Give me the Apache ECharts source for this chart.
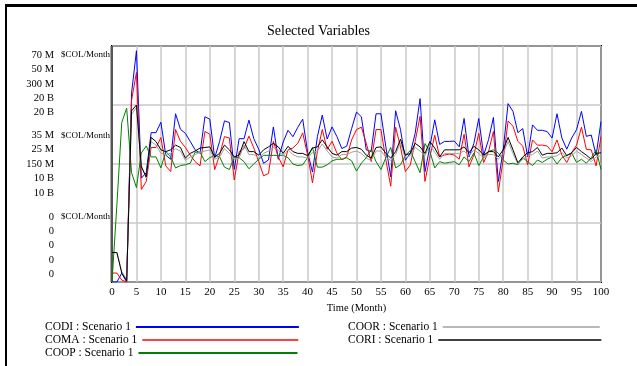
<!DOCTYPE html>
<html><head><meta charset="utf-8">
<script src="https://cdn.jsdelivr.net/npm/echarts@6/dist/echarts.min.js"></script>
<style>html,body{margin:0;padding:0;background:#fff}#c{width:637px;height:366px}</style>
</head><body><div id="c"></div><script>
// Time (Month)
const months = [0,1,2,3,4,5,6,7,8,9,10,11,12,13,14,15,16,17,18,19,20,21,22,23,24,25,26,27,28,29,30,31,32,33,34,35,36,37,38,39,40,41,42,43,44,45,46,47,48,49,50,51,52,53,54,55,56,57,58,59,60,61,62,63,64,65,66,67,68,69,70,71,72,73,74,75,76,77,78,79,80,81,82,83,84,85,86,87,88,89,90,91,92,93,94,95,96,97,98,99,100];
// CODI, $COL/Month, millions
const codi = [0,0,2.6,0,56,68.6,30.8,32.4,44.3,44.3,47.4,37.6,36.4,49.9,45.3,44.1,41.7,39.2,38.2,49,48.3,36.8,41.7,47.8,47.3,33.4,42.5,42.5,48,42.5,39.4,35.2,36.2,46,36.4,41.5,45,43.1,45.9,48.3,38.5,32.6,43.1,49.5,42.4,46,43.1,39.6,40.3,45.5,50.4,49,39.2,38.7,49.9,49.9,40.1,31.2,50.8,45.2,36.1,38.2,44.1,54.4,32.7,40.1,48.1,40.8,41.7,41.7,41.8,40.1,48.5,37.1,41.1,48.5,37.6,42.2,48.8,29.8,39.2,52.9,50.6,44.3,45.5,37.1,46.6,45,45,44.6,42.7,49.9,42.7,39.4,42.7,45.2,50.6,43.2,43.6,37.6,47.6];
// COMA, $COL/Month, millions
const coma = [1.9,1.9,0.4,0,38.5,44.4,19.6,21.3,28.5,28.5,30.6,24.6,23.4,32.3,29.8,28.5,26.9,25.5,24.6,31.9,31.3,23.8,26.9,30.8,30.5,21.6,27.6,28.3,30.9,28.4,25.5,22.5,23,29.8,26.5,24.4,28,28.4,29.4,31.6,26.9,21,27.6,32.3,28.1,29.8,27.3,25.9,26.5,30.1,32.3,32.8,29.4,25.5,32.3,32.3,25.9,20.3,32.8,28.6,23.4,24.8,29.8,35.1,21.3,26.5,31.1,26.5,26.9,27.1,26.9,26,31.3,24.4,26.9,31.5,25.3,27.6,31.9,19.1,25.9,34.1,33,29.8,28.8,24.8,30.1,29,29,28.8,27.6,30.1,26.9,25.3,27.4,29,32.8,28.1,28,24.6,30.8];
// COOP, $COL/Month, millions
const coop = [0,98,203,221,139,120,164,173,159,159,145,166,159,145,148,149,151,165,165,153,158,161,159,146,143,159,158,153,144,150,156,161,161,161,161,161,158,150,148,149,158,171,146,146,149,154,156,156,158,154,141,151,158,168,153,143,158,171,145,149,161,167,153,139,176,166,145,153,151,152,153,149,159,153,164,148,159,166,168,164,155,150,151,149,158,153,148,155,152,156,159,150,158,161,164,152,156,151,158,168,143];
// COOR, $COL/Month, billions
const coor = [2.5,2.5,0.9,0.2,14.2,14.8,9.9,8.8,11.9,11.6,10.9,10.8,10.9,11.3,11.1,10.3,10.6,10.8,11.0,11.1,11.2,10.4,10.6,11.3,10.9,10.4,10.5,11.6,10.8,10.8,10.5,10.9,11.1,11.4,11.2,10.7,11.2,10.8,10.6,10.6,10.5,11.0,11.1,11.7,11.1,10.6,10.5,10.8,10.8,11.0,11.1,10.9,10.5,10.3,11.1,11.1,10.6,10.3,10.8,11.8,10.5,10.7,11.4,11.1,10.7,11.6,11.0,10.4,10.9,10.9,10.9,10.9,11.1,10.7,11.2,10.9,10.5,10.8,10.8,10.4,10.9,11.9,10.9,10.0,10.4,10.7,10.8,11.1,10.5,10.6,10.6,10.7,11.0,10.5,10.7,11.1,10.8,10.5,10.2,10.6,10.7];
// CORI, $COL/Month, billions
const cori = [2.5,2.5,0.75,0.1,14.5,15,9.75,8.9,12.25,11.9,11.2,11.05,11.2,11.6,11.4,10.5,10.9,11.1,11.35,11.4,11.45,10.6,10.9,11.6,11.2,10.6,10.75,11.9,11.05,11.05,10.75,11.2,11.45,11.75,11.45,10.9,11.5,11.05,10.9,10.9,10.7,11.35,11.45,12.05,11.45,10.9,10.75,11.05,11.05,11.35,11.4,11.25,10.75,10.5,11.4,11.45,10.9,10.5,11.05,12.1,10.75,10.9,11.75,11.45,10.9,11.9,11.35,10.6,11.2,11.2,11.2,11.2,11.45,10.95,11.5,11.2,10.75,11.05,11.05,10.6,11.2,12.25,11.2,10.1,10.6,10.95,11.05,11.4,10.75,10.9,10.9,10.95,11.35,10.7,10.95,11.4,11.05,10.75,10.4,10.9,10.95];

const seriesNames = ['CODI : Scenario 1','COMA : Scenario 1','COOP : Scenario 1','COOR : Scenario 1','CORI : Scenario 1'];
const seriesColors = ['#0000ff','#ff0000','#008000','#a0a0a0','#000000'];
const axisMax = [70, 50, 300, 20, 20];
const topLabels = ['70 M','50 M','300 M','20 B','20 B'];
const midLabels = ['35 M','25 M','150 M','10 B','10 B'];
const botLabels = ['0','0','0','0','0'];
const unitLabel = '$COL/Month';
const titleText = 'Selected Variables';
const xName = 'Time (Month)';

const seriesData = [codi, coma, coop, coor, cori];
const FONT = 'Liberation Serif, Times New Roman, serif';

const chart = echarts.init(document.getElementById('c'), null, {renderer:'canvas'});

const yAxes = axisMax.map((m, i) => ({
  type:'value', min:0, max:m, interval:m/4, position:'left',
  show: i === 0,
  axisLine:{show:false}, axisTick:{show:false}, axisLabel:{show:false},
  splitLine:{show: i === 0, lineStyle:{color:'#c8c8c8', width:1.5}}
}));

const legendPos = [
  {left:40, top:316, w:163, h:2},
  {left:40, top:329, w:156, h:1.5},
  {left:40, top:342, w:159, h:2},
  {left:343, top:316, w:157, h:1.5},
  {left:343, top:329, w:163, h:1.5}
];

chart.setOption({
  animation:false,
  backgroundColor:'#fff',
  title:{text:titleText, left:'center', top:19, textStyle:{fontFamily:FONT, fontSize:14, fontWeight:'normal', color:'#000'}},
  grid:{left:112, right:36, top:46, bottom:84, show:true, borderColor:'#000', borderWidth:2},
  legend: seriesNames.map((n, i) => ({
    data:[n], left:legendPos[i].left, top:legendPos[i].top, align:'right', icon:'rect',
    itemWidth:legendPos[i].w, itemHeight:legendPos[i].h, selectedMode:false,
    textStyle:{fontFamily:FONT, fontSize:11.5, color:'#000'}
  })),
  xAxis:{type:'value', min:0, max:100, interval:5, name:xName, nameLocation:'middle', nameGap:16,
    nameTextStyle:{fontFamily:FONT, fontSize:10.5, color:'#000'},
    axisLine:{show:false}, axisTick:{show:false},
    axisLabel:{fontFamily:FONT, fontSize:11, color:'#000', margin:5},
    splitLine:{show:true, lineStyle:{color:'#c8c8c8', width:1.5}}},
  yAxis: yAxes,
  series: seriesData.map((d, i) => ({
    name:seriesNames[i], type:'line', yAxisIndex:i, showSymbol:false, symbol:'none',
    data: months.map((m, k) => [m, d[k]]),
    lineStyle:{color:seriesColors[i], width:1}, itemStyle:{color:seriesColors[i]}
  }))
});

// left stacked axis labels placed from the axis scale
const yTop = chart.convertToPixel({yAxisIndex:0}, axisMax[0]);
const yMid = chart.convertToPixel({yAxisIndex:0}, axisMax[0]/2);
const yBot = chart.convertToPixel({yAxisIndex:0}, 0);
const xPlot = chart.convertToPixel({xAxisIndex:0}, 0);
const step = 14.4;
const g = [];
function addGroup(labels, firstY) {
  labels.forEach((t, i) => {
    g.push({type:'text', x:xPlot-58, y:firstY + i*step, style:{text:t, fill:'#000', font:'10.5px ' + FONT, textAlign:'right', textVerticalAlign:'middle'}});
  });
  g.push({type:'text', x:xPlot-51, y:firstY, style:{text:unitLabel, fill:'#000', font:'9px ' + FONT, textAlign:'left', textVerticalAlign:'middle'}});
}
addGroup(topLabels, yTop + 9);
addGroup(midLabels, yMid - 2*step);
addGroup(botLabels, yBot - 7.5 - 4*step);
// outer frame (top and left edges)
g.push({type:'rect', shape:{x:5, y:4, width:640, height:3}, style:{fill:'#000'}});
g.push({type:'rect', shape:{x:5, y:4, width:2, height:370}, style:{fill:'#000'}});
// darker left plot edge
g.push({type:'rect', shape:{x:xPlot-1.5, y:yTop, width:2.5, height:yBot-yTop}, style:{fill:'#555'}});
chart.setOption({graphic:g});
</script></body></html>
